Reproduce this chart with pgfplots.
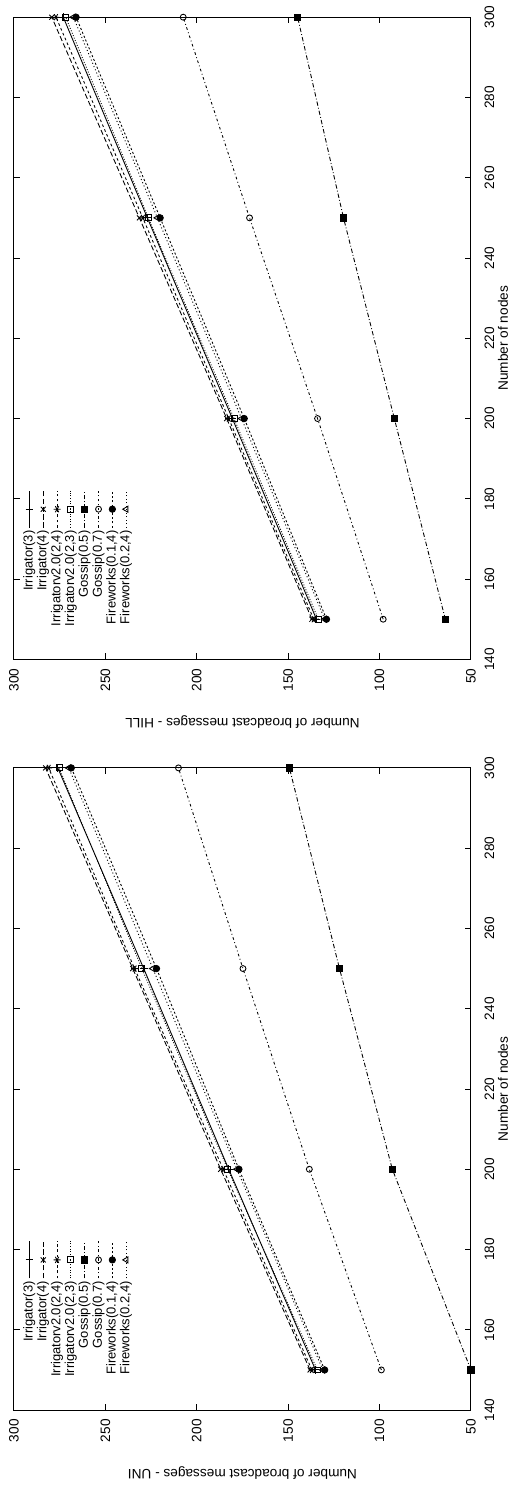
\documentclass[border=0pt]{standalone}
\usepackage{fontspec}
\setmainfont{Liberation Sans}
\usepackage{graphicx}
\usepackage{pgfplots}
\usepackage{pgfplotstable}
\pgfplotsset{compat=1.18}

\newcommand{\fsz}{\fontsize{7.8}{9.4}\selectfont}
\newcommand{\lsz}{\fontsize{7.4}{9}\selectfont}

% broadcast messages per number of nodes
\pgfplotstableread{
n   i3    i4    v24   v23   g05   g07   f014  f024
150 135   138   137   134   50    99    130   131
200 182.5 186.9 185.5 183   93    138.4 176.9 178
250 229   235   234   230   121.9 174.7 222   224
300 276   282.7 281   275.3 149.3 210   268.6 270
}\uni
\pgfplotstableread{
n   i3    i4    v24   v23   g05   g07   f014  f024
150 134.5 137   136   133.5 64    98    129   130
200 180.5 183.6 182.5 179.6 91.9  133.9 174   175.5
250 227   231.4 229.5 226.5 119.7 171.1 220   221.5
300 273   279.3 277   271.7 144.8 207.4 266   267.5
}\hill

\pgfplotsset{
  gp/.style={
    scale only axis, width=12.9cm, height=9.18cm,
    xmin=140, xmax=300, ymin=50, ymax=300,
    xtick={140,160,...,300}, ytick={50,100,...,300},
    tick align=inside, major tick length=0.12cm,
    axis line style={line width=0.6pt},
    tick style={line width=0.5pt, black},
    tick label style={font=\fsz},
    label style={font=\fsz},
    /pgf/number format/assume math mode=true,
    xticklabel style={yshift=-0.15cm},
    yticklabel style={xshift=-0.06cm},
    xlabel={Number of nodes},
    xlabel style={at={(axis description cs:0.5,-0.07)}, anchor=center},
    ylabel style={at={(axis description cs:-0.0977,0.5)}, anchor=center, rotate=0},
    legend plot pos=right,
    legend cell align=right,
    legend image code/.code={
      \draw[mark repeat=2,mark phase=2,##1] plot coordinates {(0cm,0cm) (0.37cm,0cm) (0.74cm,0cm)};},
    legend style={at={(axis description cs:0.05,0.982)}, anchor=north west,
      draw=none, fill=none, font=\lsz, inner sep=0pt, column sep=1pt,
      nodes={inner sep=0.4pt, text height=5.4pt, text depth=1.7pt}},
  },
  s1/.style={black, line width=0.5pt, solid, mark=+, mark size=2.2pt},
  s2/.style={black, line width=0.5pt, dash pattern=on 3pt off 1.5pt, mark=x, mark size=2pt, mark options={solid}},
  s3/.style={black, line width=0.5pt, dash pattern=on 1.5pt off 1.5pt, mark=asterisk, mark size=2pt, mark options={solid}},
  s4/.style={black, line width=0.5pt, dash pattern=on 0.5pt off 1pt, mark=square, mark size=1.7pt, mark options={solid}},
  s5/.style={black, line width=0.5pt, dash pattern=on 2.5pt off 1.2pt on 0.5pt off 1.2pt, mark=square*, mark size=1.8pt, mark options={solid}},
  s6/.style={black, line width=0.5pt, dash pattern=on 1.5pt off 1.5pt on 0.5pt off 1.5pt, mark=o, mark size=1.7pt, mark options={solid}},
  s7/.style={black, line width=0.5pt, dash pattern=on 1.2pt off 1.2pt, mark=*, mark size=1.8pt, mark options={solid}},
  s8/.style={black, line width=0.5pt, dash pattern=on 0.6pt off 1.4pt, mark=triangle, mark size=2pt, mark options={solid}},
}

\begin{document}
\rotatebox{90}{%
\begin{tikzpicture}
\begin{axis}[gp, name=uni, ylabel={Number of broadcast messages - UNI}]
\addplot[s1] table[x=n,y=i3]{\uni};
\addplot[s2] table[x=n,y=i4]{\uni};
\addplot[s3] table[x=n,y=v24]{\uni};
\addplot[s4] table[x=n,y=v23]{\uni};
\addplot[s5] table[x=n,y=g05]{\uni};
\addplot[s6] table[x=n,y=g07]{\uni};
\addplot[s7] table[x=n,y=f014]{\uni};
\addplot[s8] table[x=n,y=f024]{\uni};
\legend{Irrigator(3),Irrigator(4),{Irrigatorv2.0(2,4)},{Irrigatorv2.0(2,3)},Gossip(0.5),Gossip(0.7),{Fireworks(0.1,4)},{Fireworks(0.2,4)}}
\end{axis}
\begin{axis}[gp, name=hill, at={(15.08cm,0)}, ylabel={Number of broadcast messages - HILL}]
\addplot[s1] table[x=n,y=i3]{\hill};
\addplot[s2] table[x=n,y=i4]{\hill};
\addplot[s3] table[x=n,y=v24]{\hill};
\addplot[s4] table[x=n,y=v23]{\hill};
\addplot[s5] table[x=n,y=g05]{\hill};
\addplot[s6] table[x=n,y=g07]{\hill};
\addplot[s7] table[x=n,y=f014]{\hill};
\addplot[s8] table[x=n,y=f024]{\hill};
\legend{Irrigator(3),Irrigator(4),{Irrigatorv2.0(2,4)},{Irrigatorv2.0(2,3)},Gossip(0.5),Gossip(0.7),{Fireworks(0.1,4)},{Fireworks(0.2,4)}}
\end{axis}
\path ([xshift=-1.42cm,yshift=-0.88cm]uni.south west) rectangle ([xshift=0.30cm,yshift=0.28cm]hill.north east);
\end{tikzpicture}}
\end{document}
